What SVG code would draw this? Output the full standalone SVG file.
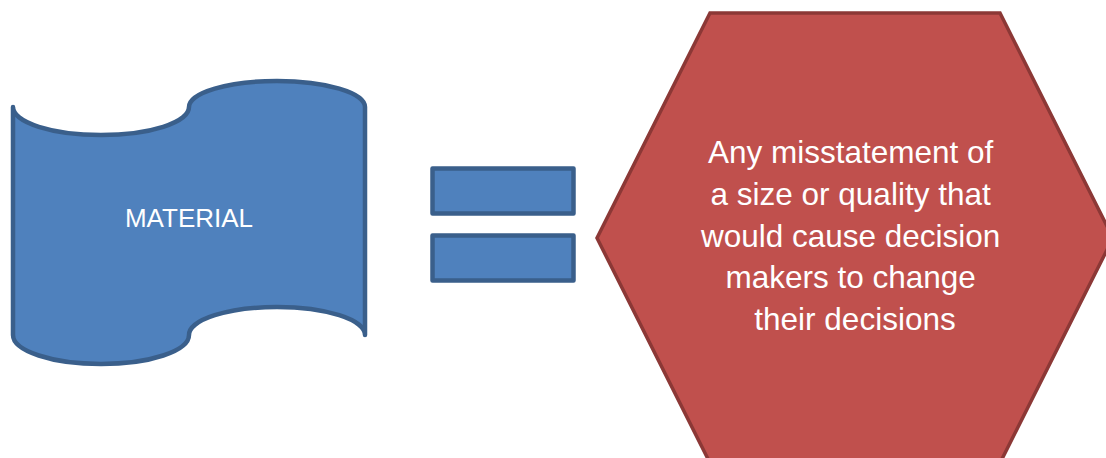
<svg xmlns="http://www.w3.org/2000/svg" width="1106" height="458" viewBox="0 0 1106 458">
<style>
.blue{fill:#4f81bd;stroke:#3a5f8b;stroke-width:4.5;stroke-linejoin:round}
.red{fill:#c0504d;stroke:#8c3836;stroke-width:3.5}
.lbl{font-family:"Liberation Sans",Arial,sans-serif;fill:#ffffff;text-anchor:middle}
</style>
<rect width="1106" height="458" fill="#ffffff"/>
<g id="material">
<path class="blue" d="M13,107 A88,28 0 0 0 189,107 A88,26 0 0 1 365,107 L365,335 A88,28 0 0 0 189,335 A88,29 0 0 1 13,335 Z"/>
<text class="lbl" x="189" y="227" font-size="26">MATERIAL</text>
</g>
<g id="equals">
<rect class="blue" x="432.5" y="168.5" width="141" height="45"/>
<rect class="blue" x="432.5" y="235.5" width="141" height="45"/>
</g>
<g id="definition">
<polygon class="red" points="710,13 1000,13 1113,238 1000,463 710,463 597,238"/>
<text class="lbl" font-size="31.5">
<tspan x="855" y="163">Any misstatement of</tspan>
<tspan x="855" y="205">a size or quality that</tspan>
<tspan x="855" y="247">would cause decision</tspan>
<tspan x="855" y="288">makers to change</tspan>
<tspan x="855" y="330">their decisions</tspan>
</text>
</g>
<g id="connectors"></g>
</svg>
